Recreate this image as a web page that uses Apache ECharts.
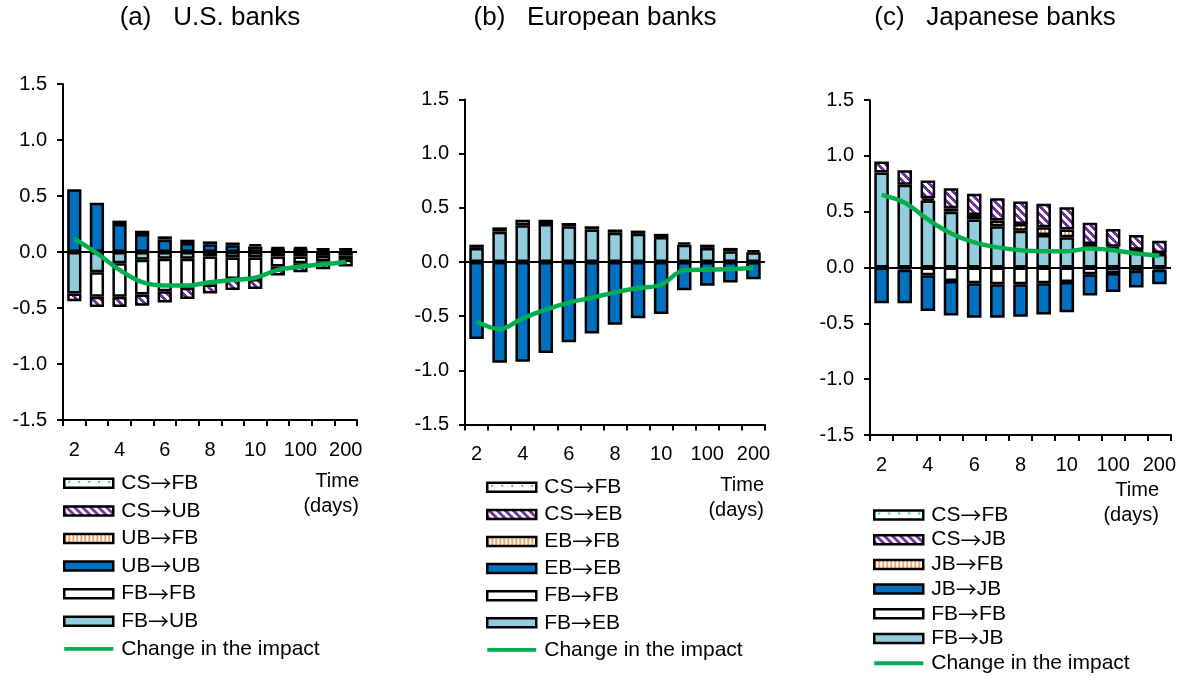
<!DOCTYPE html>
<html><head><meta charset="utf-8">
<script src="https://cdn.jsdelivr.net/npm/echarts@6/dist/echarts.min.js"></script>
<style>html,body{margin:0;padding:0;background:#fff}#c{width:1185px;height:680px}</style>
</head><body><div id="c"></div>
<script>
// ---------- data ----------
const categories = ['2','3','4','5','6','7','8','9','10','50','100','150','200'];
const yTicks = [-1.5,-1.0,-0.5,0.0,0.5,1.0,1.5];
const titles = ['(a)   U.S. banks','(b)   European banks','(c)   Japanese banks'];

// (a) U.S. banks
const us_CS_FB = [0,0,0,0,0,0,0,0,0,0,0,0,0];
const us_CS_UB = [-0.07,-0.09,-0.09,-0.10,-0.10,-0.10,-0.08,-0.10,-0.09,-0.08,-0.08,-0.07,-0.06];
const us_UB_FB = [0,0,0.03,0.03,0.03,0.03,0.025,0.025,0.02,0.01,0.01,0.01,0.01];
const us_UB_UB = [0.56,0.44,0.25,0.16,0.11,0.08,0.07,0.06,0.05,0.03,0.03,0.02,0.02];
const us_FB_FB = [0,-0.22,-0.30,-0.31,-0.29,-0.26,-0.25,-0.19,-0.19,-0.09,-0.06,-0.05,-0.04];
const us_FB_UB = [-0.37,-0.18,-0.10,-0.07,-0.06,-0.06,-0.04,-0.05,-0.05,-0.04,-0.04,-0.035,-0.03];
const us_change = [0.12,-0.01,-0.16,-0.27,-0.30,-0.30,-0.27,-0.25,-0.23,-0.16,-0.13,-0.11,-0.09];

// (b) European banks
const eu_CS_FB = [0,0,0,0,0,0,0,0,0,0,0,0,0];
const eu_CS_EB = [0,0,0,0,0,0,0,0,0,0,0,0,0];
const eu_EB_FB = [0,0,0,0,0,0,0,0,0,0,0,0,0];
const eu_EB_EB = [-0.71,-0.93,-0.92,-0.84,-0.74,-0.66,-0.58,-0.52,-0.48,-0.26,-0.22,-0.19,-0.16];
const eu_FB_FB = [0.03,0.04,0.05,0.04,0.03,0.03,0.03,0.03,0.03,0.02,0.03,0.03,0.02];
const eu_FB_EB = [0.13,0.28,0.34,0.35,0.33,0.30,0.27,0.26,0.23,0.16,0.13,0.10,0.09];
const eu_change = [-0.55,-0.62,-0.52,-0.44,-0.375,-0.33,-0.28,-0.24,-0.21,-0.075,-0.07,-0.065,-0.055];

// (c) Japanese banks
const jp_CS_FB = [0,0,0,0,0,0,0,0,0,0,0,0,0];
const jp_CS_JB = [0.10,0.13,0.16,0.18,0.19,0.20,0.20,0.21,0.20,0.19,0.16,0.13,0.11];
const jp_JB_FB = [0,0,0.02,0.03,0.04,0.05,0.06,0.07,0.07,0.03,0.02,0.01,0.01];
const jp_JB_JB = [-0.32,-0.30,-0.32,-0.31,-0.31,-0.30,-0.29,-0.28,-0.27,-0.19,-0.17,-0.15,-0.13];
const jp_FB_FB = [0,-0.02,-0.07,-0.12,-0.14,-0.15,-0.15,-0.14,-0.13,-0.06,-0.05,-0.03,-0.02];
const jp_FB_JB = [0.85,0.74,0.60,0.50,0.43,0.37,0.33,0.29,0.27,0.18,0.165,0.15,0.12];
const jp_change = [0.65,0.58,0.43,0.305,0.225,0.18,0.155,0.145,0.145,0.17,0.155,0.125,0.105];

// ---------- patterns ----------
function pattern(w,h,fn){
  const cv=document.createElement('canvas');cv.width=w;cv.height=h;
  const ctx=cv.getContext('2d');ctx.fillStyle='#fff';ctx.fillRect(0,0,w,h);fn(ctx);
  return {image:cv,repeat:'repeat'};
}
const purpleStripe = pattern(8,8,ctx=>{ctx.fillStyle='#7030a0';
  for(let y=0;y<8;y++)for(let x=0;x<8;x++){if(((x-y+16)%8)<4)ctx.fillRect(x,y,1,1);} });
const orangeStripe = pattern(4,4,ctx=>{ctx.fillStyle='#f7a566';ctx.fillRect(0,0,2,4);});
const greenDots = pattern(10,6,ctx=>{ctx.fillStyle='#3ccf7a';ctx.fillRect(4,2,2,2);});
const DARK='#0070c0', LIGHT='#93cddd', WHITE='#ffffff', GREEN='#00b050';

const FONT='Liberation Sans';
const ARROWFONT='Noto Sans CJK JP';
const grids=[
  {left:63,top:84,width:294,height:336},
  {left:465,top:99.5,width:300,height:325},
  {left:870,top:100,width:301,height:335}
];
const panels=[
  {stack:[['FB→UB',us_FB_UB,LIGHT],['FB→FB',us_FB_FB,WHITE],['UB→UB',us_UB_UB,DARK],['UB→FB',us_UB_FB,orangeStripe],['CS→UB',us_CS_UB,purpleStripe],['CS→FB',us_CS_FB,greenDots]],change:us_change},
  {stack:[['FB→EB',eu_FB_EB,LIGHT],['FB→FB',eu_FB_FB,WHITE],['EB→EB',eu_EB_EB,DARK],['EB→FB',eu_EB_FB,orangeStripe],['CS→EB',eu_CS_EB,purpleStripe],['CS→FB',eu_CS_FB,greenDots]],change:eu_change},
  {stack:[['FB→JB',jp_FB_JB,LIGHT],['FB→FB',jp_FB_FB,WHITE],['JB→JB',jp_JB_JB,DARK],['JB→FB',jp_JB_FB,orangeStripe],['CS→JB',jp_CS_JB,purpleStripe],['CS→FB',jp_CS_FB,greenDots]],change:jp_change}
];

const xAxis=[],yAxis=[],series=[],legend=[],graphic=[];
const legendPos=[{left:63,top:472.8,gap:6.6},{left:486,top:476.8,gap:6.1},{left:873,top:504.5,gap:3.7}];
const timePos=[{x:359,y:494},{x:764,y:497.5},{x:1159,y:502.5}];
const titleX=[210,595,995];

panels.forEach((p,i)=>{
  xAxis.push({type:'category',gridIndex:i,data:categories,boundaryGap:true,
    axisLine:{onZero:false,lineStyle:{color:'#000',width:2}},
    axisTick:{show:true,interval:0,length:6,lineStyle:{color:'#000',width:2}},
    axisLabel:{interval:1,color:'#000',fontSize:20,fontFamily:FONT,margin:20}});
  yAxis.push({type:'value',gridIndex:i,min:yTicks[0],max:yTicks[yTicks.length-1],interval:0.5,
    axisLine:{show:true,lineStyle:{color:'#000',width:2}},
    axisTick:{show:true,length:6,lineStyle:{color:'#000',width:2}},
    splitLine:{show:false},
    axisLabel:{color:'#000',fontSize:20,fontFamily:FONT,margin:16,formatter:v=>v.toFixed(1)}});
  p.stack.forEach(([name,vals,col])=>{
    series.push({type:'bar',name:name,xAxisIndex:i,yAxisIndex:i,stack:'s'+i,barWidth:'63%',
      data:vals.map(v=>v===0?null:v),
      itemStyle:{color:col,borderColor:'#000',borderWidth:2.5},
      emphasis:{disabled:true}});
  });
  series.push({type:'line',name:'Change in the impact',xAxisIndex:i,yAxisIndex:i,data:p.change,
    smooth:0.35,symbol:'none',z:5,lineStyle:{color:GREEN,width:4.5},itemStyle:{color:GREEN},
    markLine:{silent:true,symbol:'none',label:{show:false},lineStyle:{color:'#000',width:2,type:'solid'},data:[{yAxis:0}]}});
  const names=[...p.stack].reverse().map(s=>({name:s[0]}));
  names.push({name:'Change in the impact',icon:'path://M0,0L50,0L50,4L0,4Z',itemStyle:{color:GREEN,borderWidth:0,borderColor:GREEN}});
  legend.push({orient:'vertical',left:legendPos[i].left,top:legendPos[i].top,itemGap:legendPos[i].gap,padding:0,
    itemWidth:49,itemHeight:9,icon:'rect',itemStyle:{borderWidth:2.5,borderColor:'#000'},
    formatter:n=>n.replace('→','{a|→}'),
    textStyle:{fontSize:21,lineHeight:21,fontFamily:FONT,color:'#000',padding:[0,0,0,3],
      rich:{a:{fontFamily:ARROWFONT,fontSize:21,lineHeight:21,color:'#000'}}},
    data:names,selectedMode:false});
  graphic.push({type:'text',x:titleX[i],y:5,style:{text:titles[i],font:'26px '+FONT,fill:'#000',textAlign:'center'}});
  graphic.push({type:'text',x:timePos[i].x,y:timePos[i].y,style:{text:'Time\n(days)',font:'20px '+FONT,fill:'#000',textAlign:'right',textVerticalAlign:'middle',lineHeight:25}});
});

const chart=echarts.init(document.getElementById('c'),null,{renderer:'canvas'});
chart.setOption({animation:false,grid:grids,xAxis,yAxis,series,legend,graphic});
</script></body></html>
